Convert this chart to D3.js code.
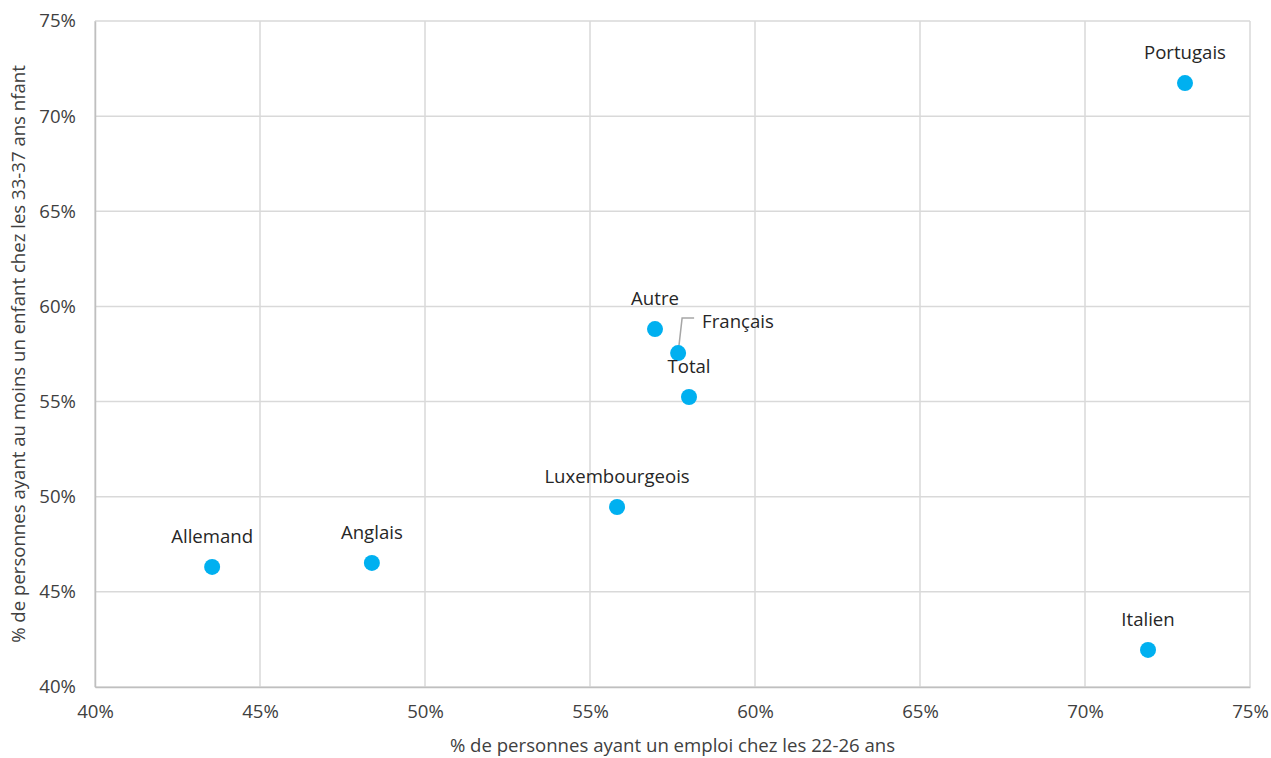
<!DOCTYPE html>
<html>
<head>
<meta charset="utf-8">
<script src="https://cdn.jsdelivr.net/npm/d3@7"></script>
<style>
  html, body { margin: 0; padding: 0; background: #fff; }
  svg { display: block; font-family: "Open Sans", sans-serif; }
</style>
</head>
<body>
<svg id="chart" width="1271" height="758"></svg>
<script>
// Groups by nationality
const groups = ["Portugais", "Autre", "Français", "Total", "Luxembourgeois", "Allemand", "Anglais", "Italien"];
// % employed among 22-26 year olds
const employment = [73.03, 56.97, 57.67, 58.0, 55.82, 43.55, 48.39, 71.91];
// % with at least one child among 33-37 year olds
const parenthood = [71.74, 58.81, 57.55, 55.24, 49.46, 46.31, 46.52, 41.95];

const xTicks = [40, 45, 50, 55, 60, 65, 70, 75];
const yTicks = [40, 45, 50, 55, 60, 65, 70, 75];

const xTitle = "% de personnes ayant un emploi chez les 22-26 ans";
const yTitle = "% de personnes ayant au moins un enfant chez les 33-37 ans nfant";

const svg = d3.select("#chart");
const margin = { left: 95, right: 21, top: 21, bottom: 71 };
const W = 1271, H = 758;
const fontSize = "18.6px";

const x = d3.scaleLinear().domain([40, 75]).range([margin.left, W - margin.right]);
const y = d3.scaleLinear().domain([40, 75]).range([H - margin.bottom, margin.top]);

const gridColor = "#d9d9d9";
const textColor = "#404040";

// Gridlines
svg.append("g")
  .selectAll("line.v")
  .data(xTicks)
  .join("line")
  .attr("x1", d => x(d)).attr("x2", d => x(d))
  .attr("y1", y(40)).attr("y2", y(75))
  .attr("stroke", gridColor).attr("stroke-width", 1.5);

svg.append("g")
  .selectAll("line.h")
  .data(yTicks)
  .join("line")
  .attr("x1", x(40)).attr("x2", x(75))
  .attr("y1", d => y(d)).attr("y2", d => y(d))
  .attr("stroke", gridColor).attr("stroke-width", 1.5);

// Axes
const xAxis = d3.axisBottom(x).tickValues(xTicks).tickFormat(d => d + "%").tickSize(0).tickPadding(18);
const yAxis = d3.axisLeft(y).tickValues(yTicks).tickFormat(d => d + "%").tickSize(0).tickPadding(19);

const gx = svg.append("g").attr("transform", `translate(0,${y(40)})`).call(xAxis);
const gy = svg.append("g").attr("transform", `translate(${x(40)},0)`).call(yAxis);

[gx, gy].forEach(g => {
  g.select(".domain").attr("stroke", "#bfbfbf").attr("stroke-width", 1.5);
  g.selectAll("text").attr("fill", textColor).style("font-size", fontSize).style("font-family", "'Open Sans', sans-serif");
});

// Axis titles
svg.append("text")
  .attr("x", (x(40) + x(75)) / 2).attr("y", 752)
  .attr("text-anchor", "middle")
  .attr("fill", textColor).style("font-size", fontSize)
  .text(xTitle);

svg.append("text")
  .attr("transform", `translate(25,${(y(40) + y(75)) / 2}) rotate(-90)`)
  .attr("text-anchor", "middle")
  .attr("fill", textColor).style("font-size", fontSize)
  .text(yTitle);

const data = groups.map((g, i) => ({ name: g, ex: employment[i], py: parenthood[i] }));

// Leader line for Français
const fr = data.find(d => d.name === "Français");
svg.append("polyline")
  .attr("points", [
    [x(fr.ex), y(fr.py)],
    [x(fr.ex) + 4, y(fr.py) - 35],
    [x(fr.ex) + 16, y(fr.py) - 35]
  ].map(p => p.join(",")).join(" "))
  .attr("fill", "none").attr("stroke", "#a6a6a6").attr("stroke-width", 1.5);

// Points
svg.append("g")
  .selectAll("circle")
  .data(data)
  .join("circle")
  .attr("cx", d => x(d.ex))
  .attr("cy", d => y(d.py))
  .attr("r", 8)
  .attr("fill", "#00b0f0");

// Labels
svg.append("g")
  .selectAll("text")
  .data(data)
  .join("text")
  .attr("x", d => d.name === "Français" ? x(d.ex) + 24 : x(d.ex))
  .attr("y", d => d.name === "Français" ? y(d.py) - 25 : y(d.py) - 24)
  .attr("text-anchor", d => d.name === "Français" ? "start" : "middle")
  .attr("fill", "#262626")
  .style("font-size", fontSize)
  .text(d => d.name);
</script>
</body>
</html>
